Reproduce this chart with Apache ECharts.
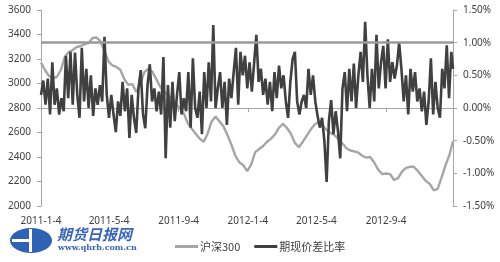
<!DOCTYPE html>
<html>
<head>
<meta charset="utf-8">
<script src="https://cdn.jsdelivr.net/npm/echarts@6/dist/echarts.min.js"></script>
<style>
html,body{margin:0;padding:0;background:#fff;}
#chart{width:500px;height:262px;}
</style>
</head>
<body>
<div id="chart"></div>
<script>
// x-axis tick labels
var tickLabels = ['2011-1-4','2011-5-4','2011-9-4','2012-1-4','2012-5-4','2012-9-4'];
var startDate = '2011-01-04';
var endDate = '2012-12-31';
// 沪深300, one reading every 7 calendar days from 2011-1-4
var hs300Step = 7;
var hs300 = [3170,3110,3061,3045,3053,3110,3216,3257,3273,3298,
  3306,3322,3330,3371,3375,3345,3265,3180,3147,3135,
  3112,3035,2990,2995,2930,2990,3090,3120,3100,3040,
  2975,2935,2905,2875,2835,2795,2755,2675,2630,2590,
  2550,2525,2590,2690,2730,2690,2650,2580,2500,2410,
  2357,2333,2285,2340,2440,2465,2490,2525,2550,2585,
  2640,2670,2637,2590,2515,2480,2525,2575,2625,2665,
  2685,2655,2620,2597,2578,2545,2510,2472,2453,2446,
  2435,2410,2395,2400,2355,2297,2261,2265,2260,2212,
  2228,2280,2311,2320,2320,2286,2245,2205,2180,2128,
  2140,2235,2335,2420,2530];
// 期现价差比率 (%), one reading every 4 calendar days from 2011-1-4
var ratioStep = 4;
var ratio = [0.2,0.42,0.05,0.45,-0.1,0.7,0.05,0.3,-0.1,0.15,
  -0.05,0.8,0.15,0.86,0.05,0.85,0.2,-0.15,0.92,0.1,
  0.6,0.0,0.5,-0.12,0.3,0.05,0.35,0.1,1.09,0.2,
  -0.15,0.2,-0.1,-0.37,0.1,-0.12,0.4,-0.05,0.3,-0.46,
  0.2,-0.15,-0.38,0.3,0.58,-0.1,-0.31,0.35,0.67,0.1,
  0.3,-0.05,0.25,-0.1,0.78,-0.77,0.35,-0.3,0.4,-0.2,
  0.2,0.55,-0.1,0.15,-0.05,0.55,-0.3,0.76,0.0,-0.15,
  0.25,-0.4,0.55,0.0,0.7,0.1,1.27,0.0,0.3,0.55,
  0.0,0.4,-0.26,0.45,0.15,0.55,0.92,0.05,0.86,0.5,
  0.8,0.3,0.7,0.25,0.68,1.12,0.4,0.6,0.2,0.45,
  0.05,0.4,-0.05,0.55,0.15,0.65,0.3,0.5,0.1,-0.15,
  0.4,0.75,0.86,0.1,-0.1,0.1,0.2,0.0,0.6,0.2,
  0.5,0.1,-0.12,-0.3,-0.15,-0.5,-1.13,-0.2,0.12,-0.4,
  -0.05,-0.35,-0.77,0.3,0.55,-0.05,0.6,0.1,0.68,0.0,
  0.5,0.86,0.4,1.32,0.5,0.0,0.6,0.1,1.12,0.3,
  0.7,0.95,0.3,1.05,0.4,0.7,0.45,0.65,1.0,0.6,
  0.1,0.5,-0.1,0.6,0.25,0.55,0.1,0.3,-0.05,0.25,
  -0.26,0.1,0.76,-0.1,0.4,0.0,-0.15,0.6,0.3,0.96,
  0.15,0.86,0.6];
var threshold = 1.0;

// calendar categories
var cats = [];
(function(){
  var s = startDate.split('-'), e = endDate.split('-');
  var t = Date.UTC(+s[0], +s[1]-1, +s[2]);
  var te = Date.UTC(+e[0], +e[1]-1, +e[2]);
  while (t <= te) {
    var d = new Date(t);
    cats.push(d.getUTCFullYear() + '-' + (d.getUTCMonth()+1) + '-' + d.getUTCDate());
    t += 86400000;
  }
})();
function toPairs(arr, step){
  return arr.map(function(v,i){ return [cats[Math.min(i*step, cats.length-1)], v]; });
}
var labelSet = {};
tickLabels.forEach(function(l){ labelSet[l] = true; });
function showTick(idx, val){ return !!labelSet[val]; }

var font = 'Noto Sans, "Noto Sans CJK SC", sans-serif';
var chart = echarts.init(document.getElementById('chart'), null, {renderer:'canvas'});
chart.setOption({
  animation: false,
  backgroundColor: '#ffffff',
  grid: {left: 41, right: 47, top: 10, bottom: 56},
  legend: {
    bottom: 5, left: 170,
    icon: 'rect',
    itemWidth: 23, itemHeight: 3, itemGap: 14,
    textStyle: {fontFamily: '"Noto Sans CJK SC", sans-serif', fontSize: 11, color: '#404040', padding: [0,0,0,-3]},
    data: ['沪深300', '期现价差比率']
  },
  xAxis: {
    type: 'category', data: cats, boundaryGap: false,
    axisLine: {lineStyle: {color: '#a6a6a6', width: 1}},
    axisTick: {show: true, interval: showTick, length: 4, lineStyle: {color: '#a6a6a6'}},
    axisLabel: {interval: showTick, margin: 10, fontSize: 10, color: '#404040', fontFamily: font},
    splitLine: {show: false}
  },
  yAxis: [{
    type: 'value', min: 2000, max: 3600, interval: 200,
    axisLine: {show: true, lineStyle: {color: '#a6a6a6'}},
    axisTick: {show: true, length: 4, lineStyle: {color: '#a6a6a6'}},
    axisLabel: {margin: 10, fontSize: 10, color: '#404040', fontFamily: font,
      formatter: function(v){ return String(v); }},
    splitLine: {show: false}
  }, {
    type: 'value', min: -1.5, max: 1.5, interval: 0.5,
    axisLine: {show: true, lineStyle: {color: '#a6a6a6'}},
    axisTick: {show: true, length: 4, lineStyle: {color: '#a6a6a6'}},
    axisLabel: {margin: 10, fontSize: 10, color: '#404040', fontFamily: font,
      formatter: function(v){ return v.toFixed(2) + '%'; }},
    splitLine: {show: false}
  }],
  series: [{
    name: '沪深300', type: 'line', yAxisIndex: 0,
    data: toPairs(hs300, hs300Step),
    symbol: 'none', lineStyle: {color: '#a6a6a6', width: 2.4},
    itemStyle: {color: '#a6a6a6'}, z: 2
  }, {
    name: '期现价差比率', type: 'line', yAxisIndex: 1,
    data: toPairs(ratio, ratioStep),
    symbol: 'none', lineStyle: {color: '#404040', width: 2.6},
    itemStyle: {color: '#404040'}, z: 3,
    markLine: {
      silent: true, symbol: 'none',
      label: {show: false},
      lineStyle: {color: '#9a9a9a', width: 2.5, type: 'solid'},
      data: [{yAxis: threshold}]
    }
  }],
  graphic: [
    {type: 'ellipse', shape: {cx: 31, cy: 240.5, rx: 21, ry: 12.5}, style: {fill: '#2f62b3'}},
    {type: 'rect', shape: {x: 29, y: 229, width: 3, height: 23}, style: {fill: '#ffffff'}},
    {type: 'rect', shape: {x: 12, y: 239, width: 18, height: 3}, style: {fill: '#ffffff'}},
    {type: 'text', left: 57, top: 227, style: {text: '期货日报网', fill: '#3a66b5',
      font: 'italic bold 15px "Noto Sans CJK SC", sans-serif'}},
    {type: 'text', left: 58, top: 244, style: {text: 'www.qhrb.com.cn', fill: '#3a66b5',
      font: 'bold 8px "DejaVu Serif", serif'}}
  ]
});
</script>
</body>
</html>
